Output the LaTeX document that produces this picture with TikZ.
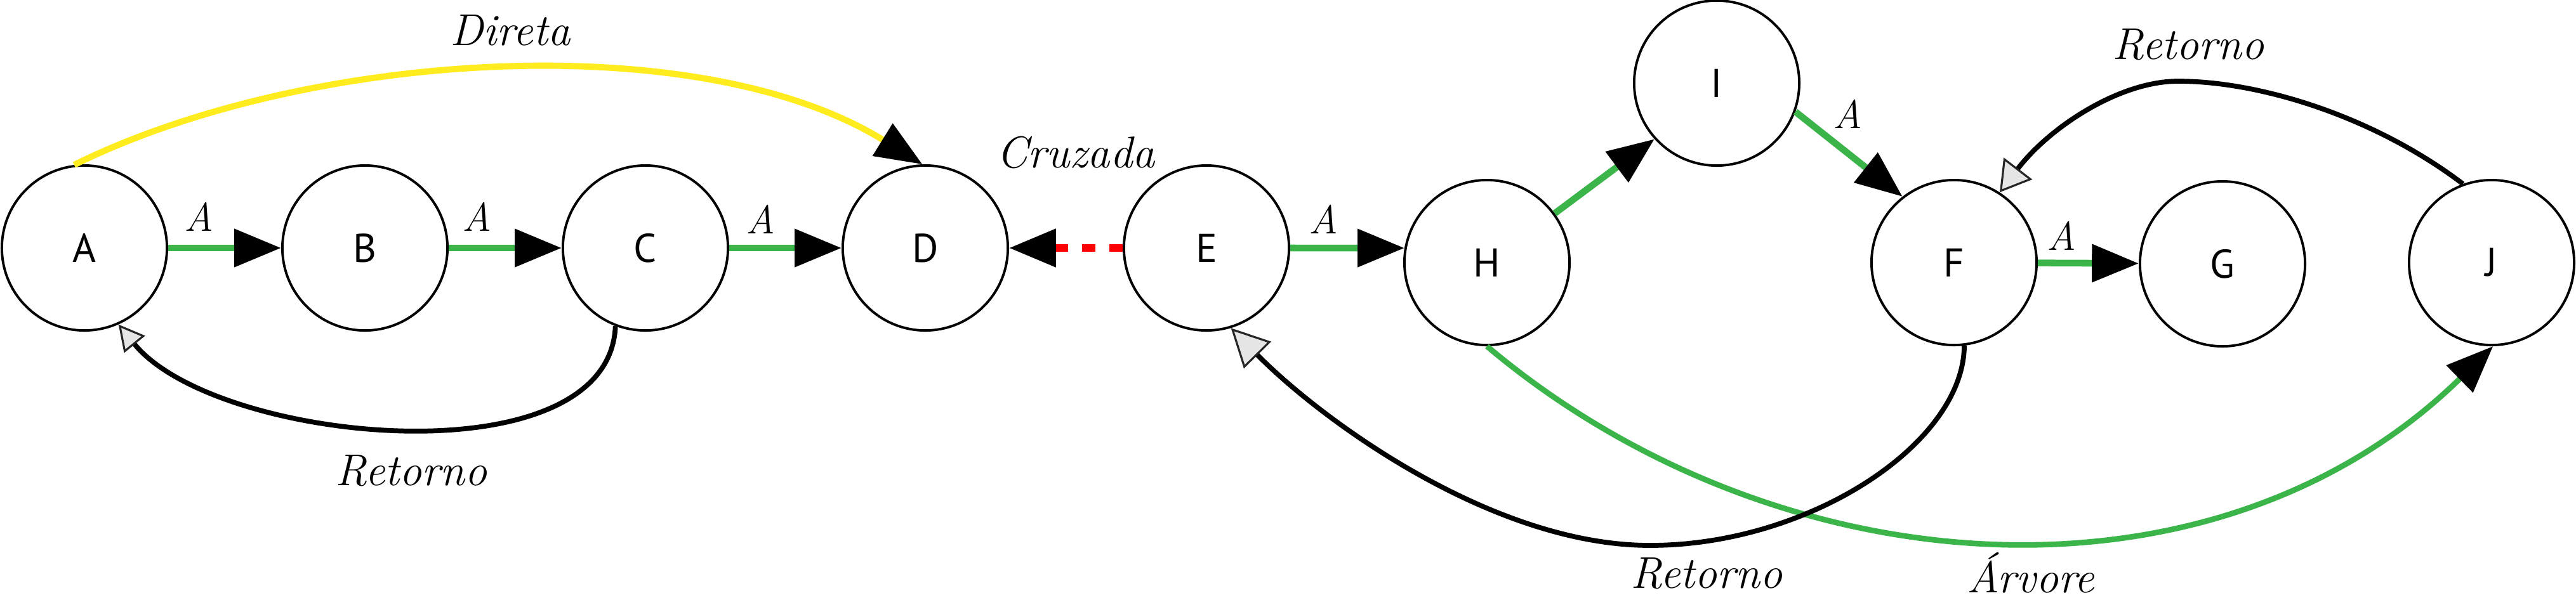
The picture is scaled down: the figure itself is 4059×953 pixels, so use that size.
\documentclass[tikz,border=0pt]{standalone}
\usepackage{fontspec}
\newfontfamily\nodefont{PT Sans}
\usetikzlibrary{arrows.meta}
\definecolor{treegreen}{RGB}{59,181,74}
\definecolor{diryellow}{RGB}{255,236,30}
\definecolor{crossred}{RGB}{255,0,0}
\tikzset{
  vtx/.style={circle, draw=black, line width=1.1pt, minimum size=2.6cm, inner sep=0pt,
              font=\nodefont\fontsize{18}{20}\selectfont},
  solidtip/.style={-{Triangle[length=21pt,width=16.5pt,color=black]}},
  tree/.style={draw=treegreen, line width=3pt, solidtip},
  treecurve/.style={draw=treegreen, line width=2.5pt, solidtip},
  direct/.style={draw=diryellow, line width=2.8pt, solidtip},
  cross/.style={draw=crossred, line width=3.3pt, dash pattern=on 0.21cm off 0.22cm, solidtip},
  back/.style={draw=black, line width=2.2pt},
  lbl/.style={font=\itshape\fontsize{20}{24}\selectfont, inner sep=0pt},
  albl/.style={font=\itshape\fontsize{18}{20}\selectfont, inner sep=0pt},
}
\begin{document}
\begin{tikzpicture}[x=0.01cm, y=-0.01cm]
\useasboundingbox[fill=white] (0,0) rectangle (4059,953);

\node[vtx] (A) at (133,391) {A};
\node[vtx] (B) at (575,391) {B};
\node[vtx] (C) at (1017,391) {C};
\node[vtx] (D) at (1458,391) {D};
\node[vtx] (E) at (1901,391) {E};
\node[vtx] (H) at (2343,414) {H};
\node[vtx] (I) at (2705,131) {I};
\node[vtx] (F) at (3079,414) {F};
\node[vtx] (G) at (3502,416) {G};
\node[vtx] (J) at (3926,414) {J};

% tree edges
\draw[tree] (A) -- (B);
\draw[tree] (B) -- (C);
\draw[tree] (C) -- (D);
\draw[tree] (E.east) -- (H.170);
\draw[tree] (H.36) -- (I.222);
\draw[tree] (I.-20) -- (F.128);
\draw[tree] (F) -- (G);
\draw[treecurve] (H.south) .. controls (2802,933) and (3490,975) .. (J.271);

% direct edge
\draw[direct] (A.97) .. controls (480,80) and (1100,40) .. (D.92);

% cross edge
\draw[cross] (E.west) -- (D.east);

% back edges
\draw[back, -{Triangle[length=11.5pt,width=12pt,fill=black!10,color=black!85,line width=0.9pt]}]
  (C.249) .. controls (960,760) and (340,700) .. (A.294);
\coordinate (fe) at (2600,860);
\draw[back, -{Triangle[length=17pt,width=17pt,fill=black!10,color=black!85,line width=0.9pt]}]
  (F.277) .. controls (3094,700) and (2850,860) .. (fe)
  .. controls (2350,860) and (2080,660) .. (E.287);
\coordinate (jf) at (3432,128);
\draw[back, -{Triangle[length=13.5pt,width=16pt,fill=black!10,color=black!85,line width=0.9pt]}]
  (J.110) .. controls (3740,183) and (3560,128) .. (jf)
  .. controls (3340,128) and (3230,200) .. (F.57.6);

% labels
\node[lbl] (l1) at (804,48) {Direta};
\node[lbl] (l2) at (648,742) {Retorno};
\node[lbl] (l3) at (1695,240) {Cruzada};
\node[lbl] (l4) at (2689,904) {Retorno};
\node[lbl] (l5) at (3448,70) {Retorno};
\node[lbl] (l6) at (3200,903) {Árvore};
\node[albl] (a1) at (314,342) {A};
\node[albl] (a2) at (752,342) {A};
\node[albl] (a3) at (1198,346) {A};
\node[albl] (a4) at (2085,346) {A};
\node[albl] (a5) at (2911,180) {A};
\node[albl] (a6) at (3248,372) {A};
\end{tikzpicture}
\end{document}
